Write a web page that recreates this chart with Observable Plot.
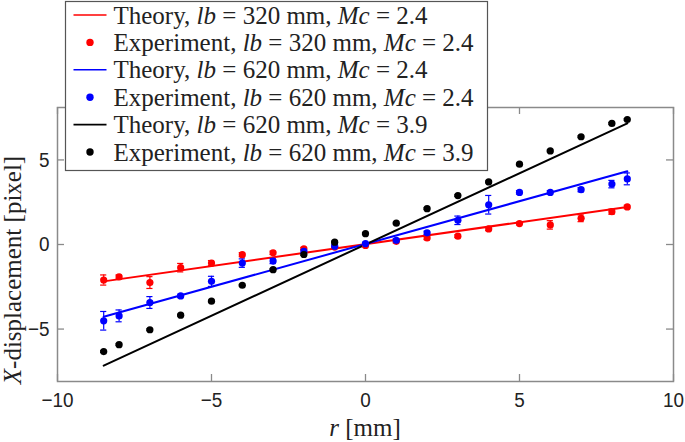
<!DOCTYPE html>
<html><head><meta charset="utf-8">
<script src="https://cdn.jsdelivr.net/npm/d3@7"></script>
<script src="https://cdn.jsdelivr.net/npm/@observablehq/plot@0.6"></script>
<style>
body{margin:0;background:#fff}
#chart{position:relative;width:685px;height:442px;overflow:hidden}
</style>
</head><body><div id="chart"></div>
<script>
// ---- data ----
const rExp = [-8.5,-8,-7,-6,-5,-4,-3,-2,-1,0,1,2,3,4,5,6,7,8,8.5];
const redY   = [-2.10,-1.92,-2.25,-1.37,-1.10,-0.60,-0.49,-0.25,-0.15,-0.06,0.19,0.39,0.49,0.92,1.24,1.16,1.55,1.94,2.22];
const redErr = [0.30,0.12,0.35,0.25,0.15,0.12,0.10,0.08,0.08,0.08,0.10,0.10,0.08,0.10,0.08,0.25,0.20,0.15,0.10];
const blueY   = [-4.51,-4.22,-3.43,-3.04,-2.18,-1.10,-0.98,-0.41,-0.10,0.05,0.25,0.69,1.43,2.35,3.08,3.08,3.24,3.57,3.88];
const blueErr = [0.55,0.35,0.35,0.10,0.30,0.25,0.15,0.12,0.08,0.08,0.10,0.10,0.25,0.55,0.10,0.10,0.12,0.22,0.35];
const blackY   = [-6.33,-5.92,-5.04,-4.18,-3.35,-2.41,-1.49,-0.59,0.14,0.64,1.26,2.12,2.89,3.70,4.75,5.53,6.37,7.16,7.39];
const blackErr = [0.05,0.05,0.05,0.05,0.05,0.05,0.05,0.05,0.05,0.05,0.05,0.05,0.05,0.05,0.05,0.05,0.05,0.05,0.05];
const rTheory = [-8.5, 8.5];
const redTheory = [-2.18, 2.22];
const blueTheory = [-4.27, 4.33];
const blackTheory = [-7.16, 7.16];
const xTicks = [-10,-5,0,5,10];
const yTicks = [-5,0,5];
const legendRows = [
  {kind:"line", color:"#ff0000", label:"Theory", lb:"320", mc:"2.4"},
  {kind:"dot",  color:"#ff0000", label:"Experiment", lb:"320", mc:"2.4"},
  {kind:"line", color:"#0000ff", label:"Theory", lb:"620", mc:"2.4"},
  {kind:"dot",  color:"#0000ff", label:"Experiment", lb:"620", mc:"2.4"},
  {kind:"line", color:"#000000", label:"Theory", lb:"620", mc:"3.9"},
  {kind:"dot",  color:"#000000", label:"Experiment", lb:"620", mc:"3.9"}
];

const series = [
  {key:"a", color:"#ff0000", y:redY, err:redErr, theory:redTheory},
  {key:"b", color:"#0000ff", y:blueY, err:blueErr, theory:blueTheory},
  {key:"c", color:"#000000", y:blackY, err:blackErr, theory:blackTheory}
];
const exp = series.flatMap(s => rExp.map((x,i)=>({x, y:s.y[i], e:s.err[i], color:s.color, key:s.key})));
const theory = series.flatMap(s => rTheory.map((x,i)=>({x, y:s.theory[i], color:s.color, key:s.key})));

const serif = "'Liberation Serif','Times New Roman',serif";
const sans = "'Liberation Sans',Arial,sans-serif";
const W=685, H=442, mL=57, mR=12, mT=107, mB=61;
const innerH = H-mT-mB, innerW = W-mL-mR;
const axisGray = "#8a8a8a";

const plot = Plot.plot({
  width:W, height:H, marginLeft:mL, marginRight:mR, marginTop:mT, marginBottom:mB,
  x:{domain:[-10,10]},
  y:{domain:[-8.1,8.1]},
  color:{type:"identity"},
  style:{fontFamily:sans, fontSize:"21px", color:"#222", background:"#fff", overflow:"visible"},
  marks:[
    Plot.tickX(xTicks,{x:d=>d, insetTop:innerH-7, stroke:axisGray, strokeWidth:1.3}),
    Plot.tickX(xTicks,{x:d=>d, insetBottom:innerH-7, stroke:axisGray, strokeWidth:1.3}),
    Plot.tickY(yTicks,{y:d=>d, insetRight:innerW-7, stroke:axisGray, strokeWidth:1.3}),
    Plot.tickY(yTicks,{y:d=>d, insetLeft:innerW-7, stroke:axisGray, strokeWidth:1.3}),
    Plot.axisX(xTicks,{tickSize:0, tickPadding:11, label:null, fill:"#222"}),
    Plot.axisY(yTicks,{tickSize:0, tickPadding:8, label:null, fill:"#222"}),
    Plot.line(theory,{x:"x", y:"y", z:"key", stroke:"color", strokeWidth:2}),
    Plot.ruleX(exp,{x:"x", y1:d=>d.y-d.e, y2:d=>d.y+d.e, stroke:"color", strokeWidth:1.2}),
    Plot.ruleY(exp,{y:d=>d.y+d.e, x1:d=>d.x-0.1, x2:d=>d.x+0.1, stroke:"color", strokeWidth:1.2}),
    Plot.ruleY(exp,{y:d=>d.y-d.e, x1:d=>d.x-0.1, x2:d=>d.x+0.1, stroke:"color", strokeWidth:1.2}),
    Plot.dot(exp,{x:"x", y:"y", fill:"color", r:3.6}),
    Plot.frame({stroke:axisGray, strokeWidth:1.5})
  ]
});
document.getElementById("chart").appendChild(plot);

const svg = d3.select(plot);
// condense tick labels slightly (reference uses a narrow sans face)
svg.selectAll("g[aria-label$='tick label'] text").each(function(){
  const t = this.getAttribute("transform") || "";
  this.setAttribute("transform", t + " scale(0.9,1)");
});
// axis titles
const xt = svg.append("text").attr("x", mL+innerW/2).attr("y", 436)
  .attr("text-anchor","middle").style("font-family",serif).style("font-size","25px").attr("fill","#222");
xt.append("tspan").style("font-style","italic").text("r");
xt.append("tspan").text(" [mm]");
const yt = svg.append("text").attr("transform","translate(21,270) rotate(-90)")
  .attr("text-anchor","middle").style("font-family",serif).style("font-size","25px").attr("fill","#222");
yt.append("tspan").style("font-style","italic").text("X");
yt.append("tspan").text("-displacement [pixel]");

// legend
const lg = svg.append("g").attr("transform","translate(65.5,1.5)");
lg.append("rect").attr("width",422).attr("height",169).attr("fill","#fff").attr("stroke","#555").attr("stroke-width",1.2);
legendRows.forEach((row,i)=>{
  const cy = 13.5 + i*27.4;
  const g = lg.append("g").attr("transform",`translate(0,${cy})`);
  if (row.kind==="line") {
    g.append("line").attr("x1",8).attr("x2",41).attr("y1",0).attr("y2",0).attr("stroke",row.color).attr("stroke-width",1.6);
  } else {
    g.append("circle").attr("cx",24.5).attr("cy",0).attr("r",3.7).attr("fill",row.color);
  }
  const t = g.append("text").attr("x",48).attr("y",8.5).attr("text-anchor","start")
    .style("font-family",serif).style("font-size","25px").attr("fill","#222");
  t.append("tspan").text(row.label+", ");
  t.append("tspan").style("font-style","italic").text("lb");
  t.append("tspan").text(" = "+row.lb+" mm, ");
  t.append("tspan").style("font-style","italic").text("Mc");
  t.append("tspan").text(" = "+row.mc);
});
</script>
</body></html>
